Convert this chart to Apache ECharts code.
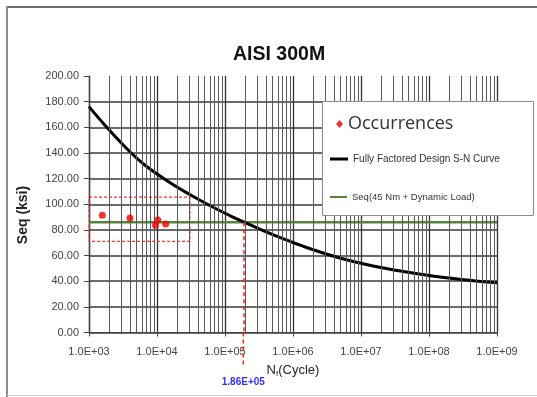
<!DOCTYPE html>
<html>
<head>
<meta charset="utf-8">
<script src="https://cdn.jsdelivr.net/npm/echarts@6/dist/echarts.min.js"></script>
<style>html,body{margin:0;padding:0;background:#fff}#c{width:537px;height:397px}</style>
</head>
<body>
<div id="c"></div>
<script>
// ---- data ----
var titleText = 'AISI 300M';
var curveN = [1000, 1702, 3350, 6610, 15420, 30340, 59700, 117500, 184600, 363900, 640000, 1580000, 4890000, 15100000, 46900000, 145000000, 448000000, 1000000000];
var curveS = [176.1, 161.8, 145.0, 130.6, 117.0, 107.6, 99.0, 91.2, 86.4, 79.5, 74.2, 66.3, 58.1, 51.9, 47.2, 43.3, 40.4, 38.8];
var occN = [1570, 4000, 9500, 10300, 13400];
var occS = [91.4, 89.3, 83.6, 87.8, 84.6];
var seqLevel = 86;
var crossN = 186000;
var crossLabel = '1.86E+05';
var boxN = [950, 30500];
var boxS = [71, 105.5];
var decades = [3, 4, 5, 6, 7, 8];
var minorMult = [2, 3, 4, 5, 6, 7, 8, 9];
var yTicks = [0, 20, 40, 60, 80, 100, 120, 140, 160, 180, 200];
var names = ['Occurrences', 'Fully Factored Design S-N Curve', 'Seq(45 Nm + Dynamic Load)'];

var curveData = curveN.map(function (n, i) { return [n, curveS[i]]; });
var occData = occN.map(function (n, i) { return [n, occS[i]]; });
var minorLines = [];
decades.forEach(function (d) {
  minorMult.forEach(function (m) { minorLines.push({ xAxis: m * Math.pow(10, d) }); });
});

var chart = echarts.init(document.getElementById('c'), null, { renderer: 'canvas' });
var splitColors = yTicks.map(function (v, i) { return i === yTicks.length - 1 ? 'rgba(0,0,0,0)' : '#3a3a3a'; });

chart.setOption({
  animation: false,
  backgroundColor: '#fff',
  title: {
    text: titleText, left: 228, top: 40,
    textStyle: { fontSize: 19.5, fontWeight: 'bold', color: '#111', fontFamily: 'Liberation Sans Narrow, Liberation Sans, Arial, sans-serif' }
  },
  grid: { left: 89, right: 40, top: 76, bottom: 64.5 },
  xAxis: {
    type: 'log', logBase: 10, min: 1e3, max: 1e9,
    axisLine: { show: true, onZero: false, lineStyle: { color: '#444', width: 1 } },
    axisTick: { show: true, length: 4, lineStyle: { color: '#444' } },
    axisLabel: {
      margin: 14, fontSize: 11, color: '#444', fontFamily: 'Liberation Sans, Arial, sans-serif',
      formatter: function (v) {
        var e = Math.round(Math.log10(v));
        return '1.0E+' + (e < 10 ? '0' : '') + e;
      }
    },
    splitLine: { show: true, lineStyle: { color: '#333', width: 1.3 } },
    name: 'N{s|f}(Cycle)', nameLocation: 'middle', nameGap: 31,
    nameTextStyle: {
      fontSize: 13, color: '#222', fontFamily: 'Liberation Sans Narrow, Liberation Sans, Arial, sans-serif',
      rich: { s: { fontSize: 8, color: '#222', verticalAlign: 'bottom', padding: [6, 0, 0, 0] } }
    }
  },
  yAxis: {
    type: 'value', min: 0, max: 200, interval: 20,
    axisLine: { show: true, lineStyle: { color: '#444', width: 1 } },
    axisTick: { show: true, length: 5, inside: false, lineStyle: { color: '#444' } },
    axisLabel: {
      margin: 10, fontSize: 11, color: '#444', fontFamily: 'Liberation Sans, Arial, sans-serif',
      formatter: function (v) { return v.toFixed(2); }
    },
    splitLine: { show: true, lineStyle: { color: splitColors, width: 1.5 } }
  },
  legend: [
    {
      data: [{ name: names[0], icon: 'diamond' }], left: 336, top: 115, z: 20, padding: 0,
      itemWidth: 7, itemHeight: 8, selectedMode: false,
      textStyle: { fontSize: 18, color: '#333', fontFamily: 'Open Sans, Liberation Sans, sans-serif' }
    },
    {
      data: [{ name: names[1], icon: 'rect' }], left: 330, top: 154, z: 20, padding: 0,
      itemWidth: 18, itemHeight: 3, selectedMode: false,
      textStyle: { fontSize: 10, color: '#333', fontFamily: 'Liberation Sans Narrow, Liberation Sans, sans-serif' }
    },
    {
      data: [{ name: names[2], icon: 'rect' }], left: 330, top: 192, z: 20, padding: 0,
      itemWidth: 17, itemHeight: 2, selectedMode: false,
      textStyle: { fontSize: 9.5, color: '#333', fontFamily: 'Liberation Sans Narrow, Liberation Sans, sans-serif' }
    }
  ],
  graphic: {
    elements: [
      { id: 'ft', type: 'line', shape: { x1: 6, y1: 7, x2: 537, y2: 7 }, style: { stroke: '#6a6a6a', lineWidth: 2 }, z: 1 },
      { id: 'fl', type: 'line', shape: { x1: 7, y1: 6, x2: 7, y2: 397 }, style: { stroke: '#8a8a8a', lineWidth: 2 }, z: 1 },
      { id: 'fb', type: 'line', shape: { x1: 7, y1: 395.5, x2: 537, y2: 395.5 }, style: { stroke: '#d0d0d0', lineWidth: 1 }, z: 1 },
      { id: 'lb', type: 'rect', shape: { x: 322.5, y: 101.5, width: 211, height: 114 }, style: { fill: '#fff', stroke: '#8c8c8c', lineWidth: 1 }, z: 15 },
      {
        id: 'yn', type: 'text', x: 23, y: 215, rotation: Math.PI / 2, z: 5,
        style: { text: 'Seq (ksi)', fill: '#222', font: 'bold 14px Liberation Sans, Arial, sans-serif', align: 'center', verticalAlign: 'middle' }
      }
    ]
  },
  series: [
    {
      name: 'minorgrid', type: 'line', data: [], z: 1, silent: true,
      markLine: {
        silent: true, symbol: 'none', animation: false,
        label: { show: false },
        lineStyle: { color: '#5a5a5a', width: 1, type: 'solid' },
        data: minorLines
      }
    },
    {
      name: names[2], type: 'line', z: 3, showSymbol: false, symbol: 'none',
      data: [[1e3, seqLevel], [1e9, seqLevel]],
      itemStyle: { color: '#55843a' },
      lineStyle: { color: '#55843a', width: 2.5 },
      markLine: {
        silent: true, symbol: 'none', animation: false,
        lineStyle: { color: '#ff2020', width: 1.5, type: [4, 3] },
        label: { show: false },
        data: [[{ coord: [crossN, seqLevel] }, { coord: [crossN, 0] }]]
      }
    },
    {
      name: names[1], type: 'line', z: 4, smooth: 0.4, showSymbol: false, symbol: 'none',
      data: curveData,
      itemStyle: { color: '#000' },
      lineStyle: { color: '#000', width: 3 }
    },
    {
      name: names[0], type: 'scatter', z: 5, symbol: 'circle', symbolSize: 7,
      data: occData,
      itemStyle: { color: '#ee0000' },
      markArea: {
        silent: true,
        itemStyle: { color: 'rgba(0,0,0,0)', borderColor: '#ff3030', borderWidth: 1.2, borderType: [3, 2] },
        data: [[{ coord: [boxN[0], boxS[1]] }, { coord: [boxN[1], boxS[0]] }]]
      }
    }
  ]
});

// extend the crossing line below the x axis and add its label
var p0 = chart.convertToPixel({ gridIndex: 0 }, [crossN, 0]);
chart.setOption({
  graphic: {
    elements: [
      { id: 'ext', type: 'line', z: 6, shape: { x1: p0[0], y1: p0[1], x2: p0[0], y2: p0[1] + 33 }, style: { stroke: '#ff2020', lineWidth: 1.5, lineDash: [4, 3] } },
      { id: 'xl', type: 'text', z: 6, x: p0[0], y: p0[1] + 50, style: { text: crossLabel, fill: '#3030ff', font: 'bold 10px Liberation Sans, Arial, sans-serif', align: 'center', verticalAlign: 'middle' } }
    ]
  }
});
</script>
</body>
</html>
